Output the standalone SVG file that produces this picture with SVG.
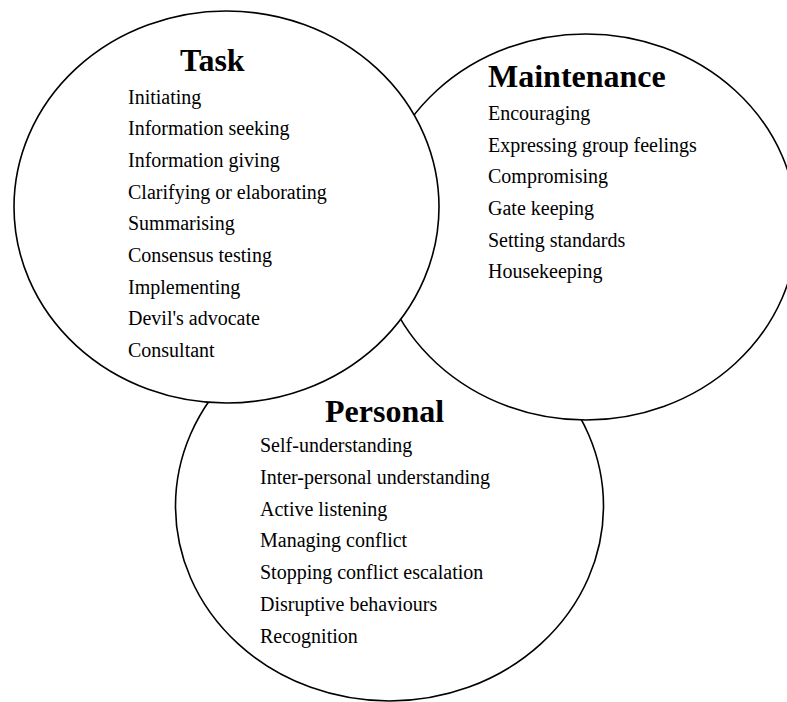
<svg xmlns="http://www.w3.org/2000/svg" width="787" height="702" viewBox="0 0 787 702">
  <style>
    .ring { fill: #ffffff; stroke: #000000; stroke-width: 1.6; }
    .title { font-family: "Liberation Serif", "Times New Roman", serif; font-size: 32px; font-weight: bold; fill: #000000; }
    .item { font-family: "Liberation Serif", "Times New Roman", serif; font-size: 20px; fill: #000000; }
  </style>
  <rect x="0" y="0" width="787" height="702" fill="#ffffff"/>
  <g id="connectors"></g>
  <g id="personal">
    <ellipse class="ring" cx="389.5" cy="506" rx="214" ry="195"/>
    <text class="title" x="325" y="421.5">Personal</text>
    <text class="item" x="260" y="452">Self-understanding</text>
    <text class="item" x="260" y="484">Inter-personal understanding</text>
    <text class="item" x="260" y="515.5">Active listening</text>
    <text class="item" x="260" y="547">Managing conflict</text>
    <text class="item" x="260" y="578.5">Stopping conflict escalation</text>
    <text class="item" x="260" y="610.5">Disruptive behaviours</text>
    <text class="item" x="260" y="643">Recognition</text>
  </g>
  <g id="maintenance">
    <ellipse class="ring" cx="586" cy="227" rx="211" ry="193"/>
    <text class="title" x="488" y="87">Maintenance</text>
    <text class="item" x="488" y="120">Encouraging</text>
    <text class="item" x="488" y="151.5">Expressing group feelings</text>
    <text class="item" x="488" y="183">Compromising</text>
    <text class="item" x="488" y="215">Gate keeping</text>
    <text class="item" x="488" y="246.5">Setting standards</text>
    <text class="item" x="488" y="278">Housekeeping</text>
  </g>
  <g id="task">
    <ellipse class="ring" cx="226.5" cy="207" rx="212.5" ry="196"/>
    <text class="title" x="180" y="71">Task</text>
    <text class="item" x="128" y="103.5">Initiating</text>
    <text class="item" x="128" y="135.2">Information seeking</text>
    <text class="item" x="128" y="166.9">Information giving</text>
    <text class="item" x="128" y="198.6">Clarifying or elaborating</text>
    <text class="item" x="128" y="230.3">Summarising</text>
    <text class="item" x="128" y="262">Consensus testing</text>
    <text class="item" x="128" y="293.7">Implementing</text>
    <text class="item" x="128" y="325.4">Devil's advocate</text>
    <text class="item" x="128" y="357.1">Consultant</text>
  </g>
</svg>
